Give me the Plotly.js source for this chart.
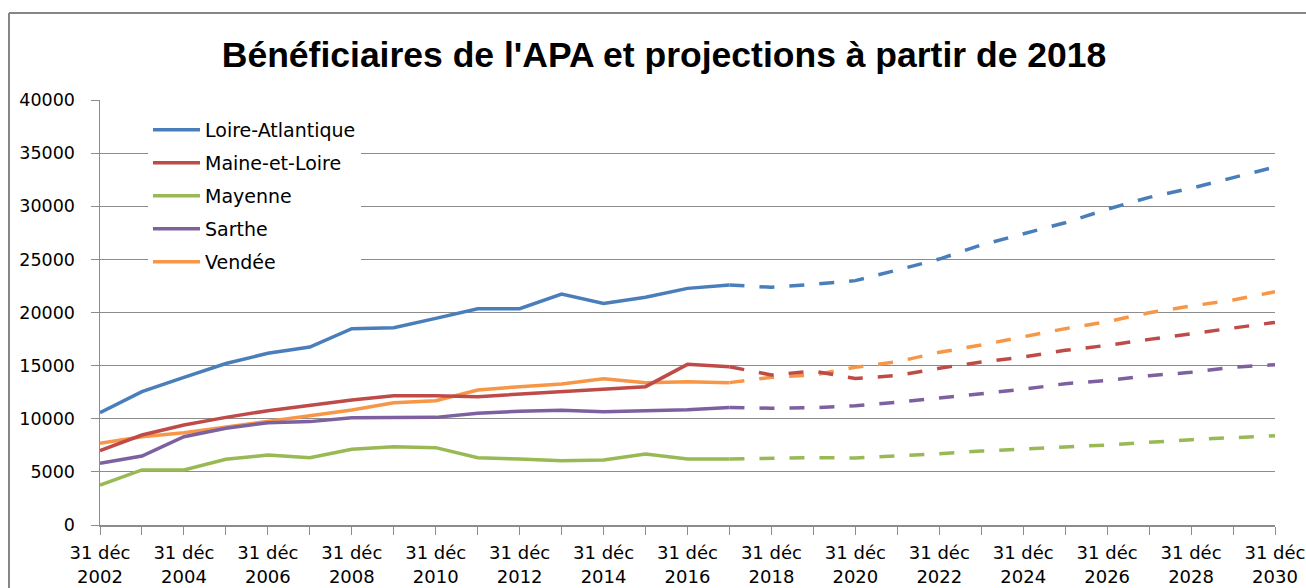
<!DOCTYPE html>
<html>
<head>
<meta charset="utf-8">
<script src="https://cdn.plot.ly/plotly-3.0.1.min.js"></script>
<style>html,body{margin:0;padding:0;background:#fff;}#chart{width:1306px;height:588px;}</style>
</head>
<body>
<div id="chart"></div>
<script>
const histYears = [2002,2003,2004,2005,2006,2007,2008,2009,2010,2011,2012,2013,2014,2015,2016,2017];
const projYears = [2017,2018,2019,2020,2021,2022,2023,2024,2025,2026,2027,2028,2029,2030];

const seriesNames = ["Loire-Atlantique","Maine-et-Loire","Mayenne","Sarthe","Vendée"];
const seriesColors = ["#4A7EBB","#BE4B48","#98B954","#7D60A0","#F79646"];

const loireAtlantiqueHist = [10570,12550,13900,15200,16160,16750,18480,18570,19450,20360,20360,21740,20860,21430,22270,22590];
const loireAtlantiqueProj = [22590,22370,22650,23000,24000,25030,26350,27390,28450,29710,30840,31690,32720,33690];

const maineEtLoireHist = [7000,8470,9410,10130,10760,11290,11760,12170,12170,12080,12330,12550,12830,13020,15120,14900];
const maineEtLoireProj = [14900,14120,14490,13780,14070,14750,15340,15810,16440,16910,17470,17980,18540,19070];

const mayenneHist = [3760,5180,5180,6180,6590,6340,7120,7370,7280,6340,6210,6050,6120,6680,6210,6210];
const mayenneProj = [6210,6270,6340,6310,6490,6710,6960,7120,7340,7530,7810,8030,8220,8410];

const sartheHist = [5800,6490,8310,9100,9630,9730,10100,10130,10130,10510,10700,10790,10670,10760,10850,11070];
const sartheProj = [11070,10980,11040,11230,11550,11920,12360,12770,13300,13610,14050,14370,14840,15090];

const vendeeHist = [7690,8310,8690,9250,9790,10290,10820,11510,11700,12710,13020,13270,13770,13400,13490,13400];
const vendeeProj = [13400,13900,14120,14840,15370,16250,16940,17730,18480,19140,19980,20610,21180,21950];

const tickYears = [2002,2004,2006,2008,2010,2012,2014,2016,2018,2020,2022,2024,2026,2028,2030];
const tickLabels = tickYears.map(y => "31 déc<br>" + y);
const yTicks = [0,5000,10000,15000,20000,25000,30000,35000,40000];

const hist = [loireAtlantiqueHist, maineEtLoireHist, mayenneHist, sartheHist, vendeeHist];
const proj = [loireAtlantiqueProj, maineEtLoireProj, mayenneProj, sartheProj, vendeeProj];

const traces = [];
for (let i = seriesNames.length - 1; i >= 0; i--) {
  traces.push({
    x: projYears, y: proj[i], type: "scatter", mode: "lines",
    name: seriesNames[i] + " (projection)", showlegend: false, legendgroup: "g" + i,
    line: {color: seriesColors[i], width: 3.5, dash: "15px,15px"}, hoverinfo: "x+y"
  });
}
for (let i = seriesNames.length - 1; i >= 0; i--) {
  traces.push({
    x: histYears, y: hist[i], type: "scatter", mode: "lines",
    name: seriesNames[i], legendgroup: "g" + i, legendrank: i + 1,
    line: {color: seriesColors[i], width: 3.5}, hoverinfo: "x+y"
  });
}

const L = 100, R = 31, T = 100, B = 63, W = 1306, H = 588;
const pw = W - L - R, ph = H - T - B;
const px = v => (v - L) / pw;
const py = v => (H - B - v) / ph;

const layout = {
  width: W, height: H,
  margin: {l: L, r: R, t: T, b: B},
  paper_bgcolor: "#ffffff", plot_bgcolor: "#ffffff",
  title: {text: "Bénéficiaires de l'APA et projections à partir de 2018",
          font: {family: "Liberation Sans, Arial, sans-serif", size: 35.5, color: "#000000", weight: "bold"},
          x: px(664), xref: "paper", xanchor: "center", y: 1 - 55 / H, yref: "container", yanchor: "middle"},
  font: {family: "DejaVu Sans, sans-serif", size: 17, color: "#000000"},
  showlegend: true,
  legend: {x: px(148), y: py(111), xanchor: "left", yanchor: "top", bgcolor: "#ffffff",
           font: {family: "DejaVu Sans, sans-serif", size: 19, color: "#000000"},
           traceorder: "grouped", tracegroupgap: 5.3, borderwidth: 0, itemwidth: 47},
  xaxis: {range: [2002, 2030], tickvals: tickYears, ticktext: tickLabels,
          showgrid: false, zeroline: false, showline: true, linecolor: "#8C8C8C", linewidth: 1.5,
          ticks: "outside", ticklen: 8, tickcolor: "#8C8C8C", tickwidth: 1, ticklabelstandoff: 3,
          minor: {dtick: 1, tick0: 2002, ticks: "outside", ticklen: 8, tickcolor: "#8C8C8C", tickwidth: 1, showgrid: false},
          tickfont: {family: "DejaVu Sans, sans-serif", size: 18, color: "#000000"}, fixedrange: true},
  yaxis: {range: [0, 40000], tickvals: yTicks, ticktext: yTicks.map(String),
          showgrid: true, gridcolor: "#8C8C8C", gridwidth: 1, zeroline: false,
          showline: true, linecolor: "#8C8C8C", linewidth: 1.5,
          ticks: "outside", ticklen: 8, tickcolor: "#8C8C8C", ticklabelstandoff: 12,
          tickfont: {family: "DejaVu Sans, sans-serif", size: 17.5, color: "#000000"}, fixedrange: true},
  shapes: [
    {type: "line", xref: "paper", yref: "paper", x0: px(9), x1: px(1320), y0: py(13), y1: py(13), line: {color: "#868686", width: 2}},
    {type: "line", xref: "paper", yref: "paper", x0: px(9), x1: px(9), y0: py(13), y1: py(600), line: {color: "#868686", width: 2}}
  ]
};

Plotly.newPlot("chart", traces, layout, {displayModeBar: false, staticPlot: true});
</script>
</body>
</html>
